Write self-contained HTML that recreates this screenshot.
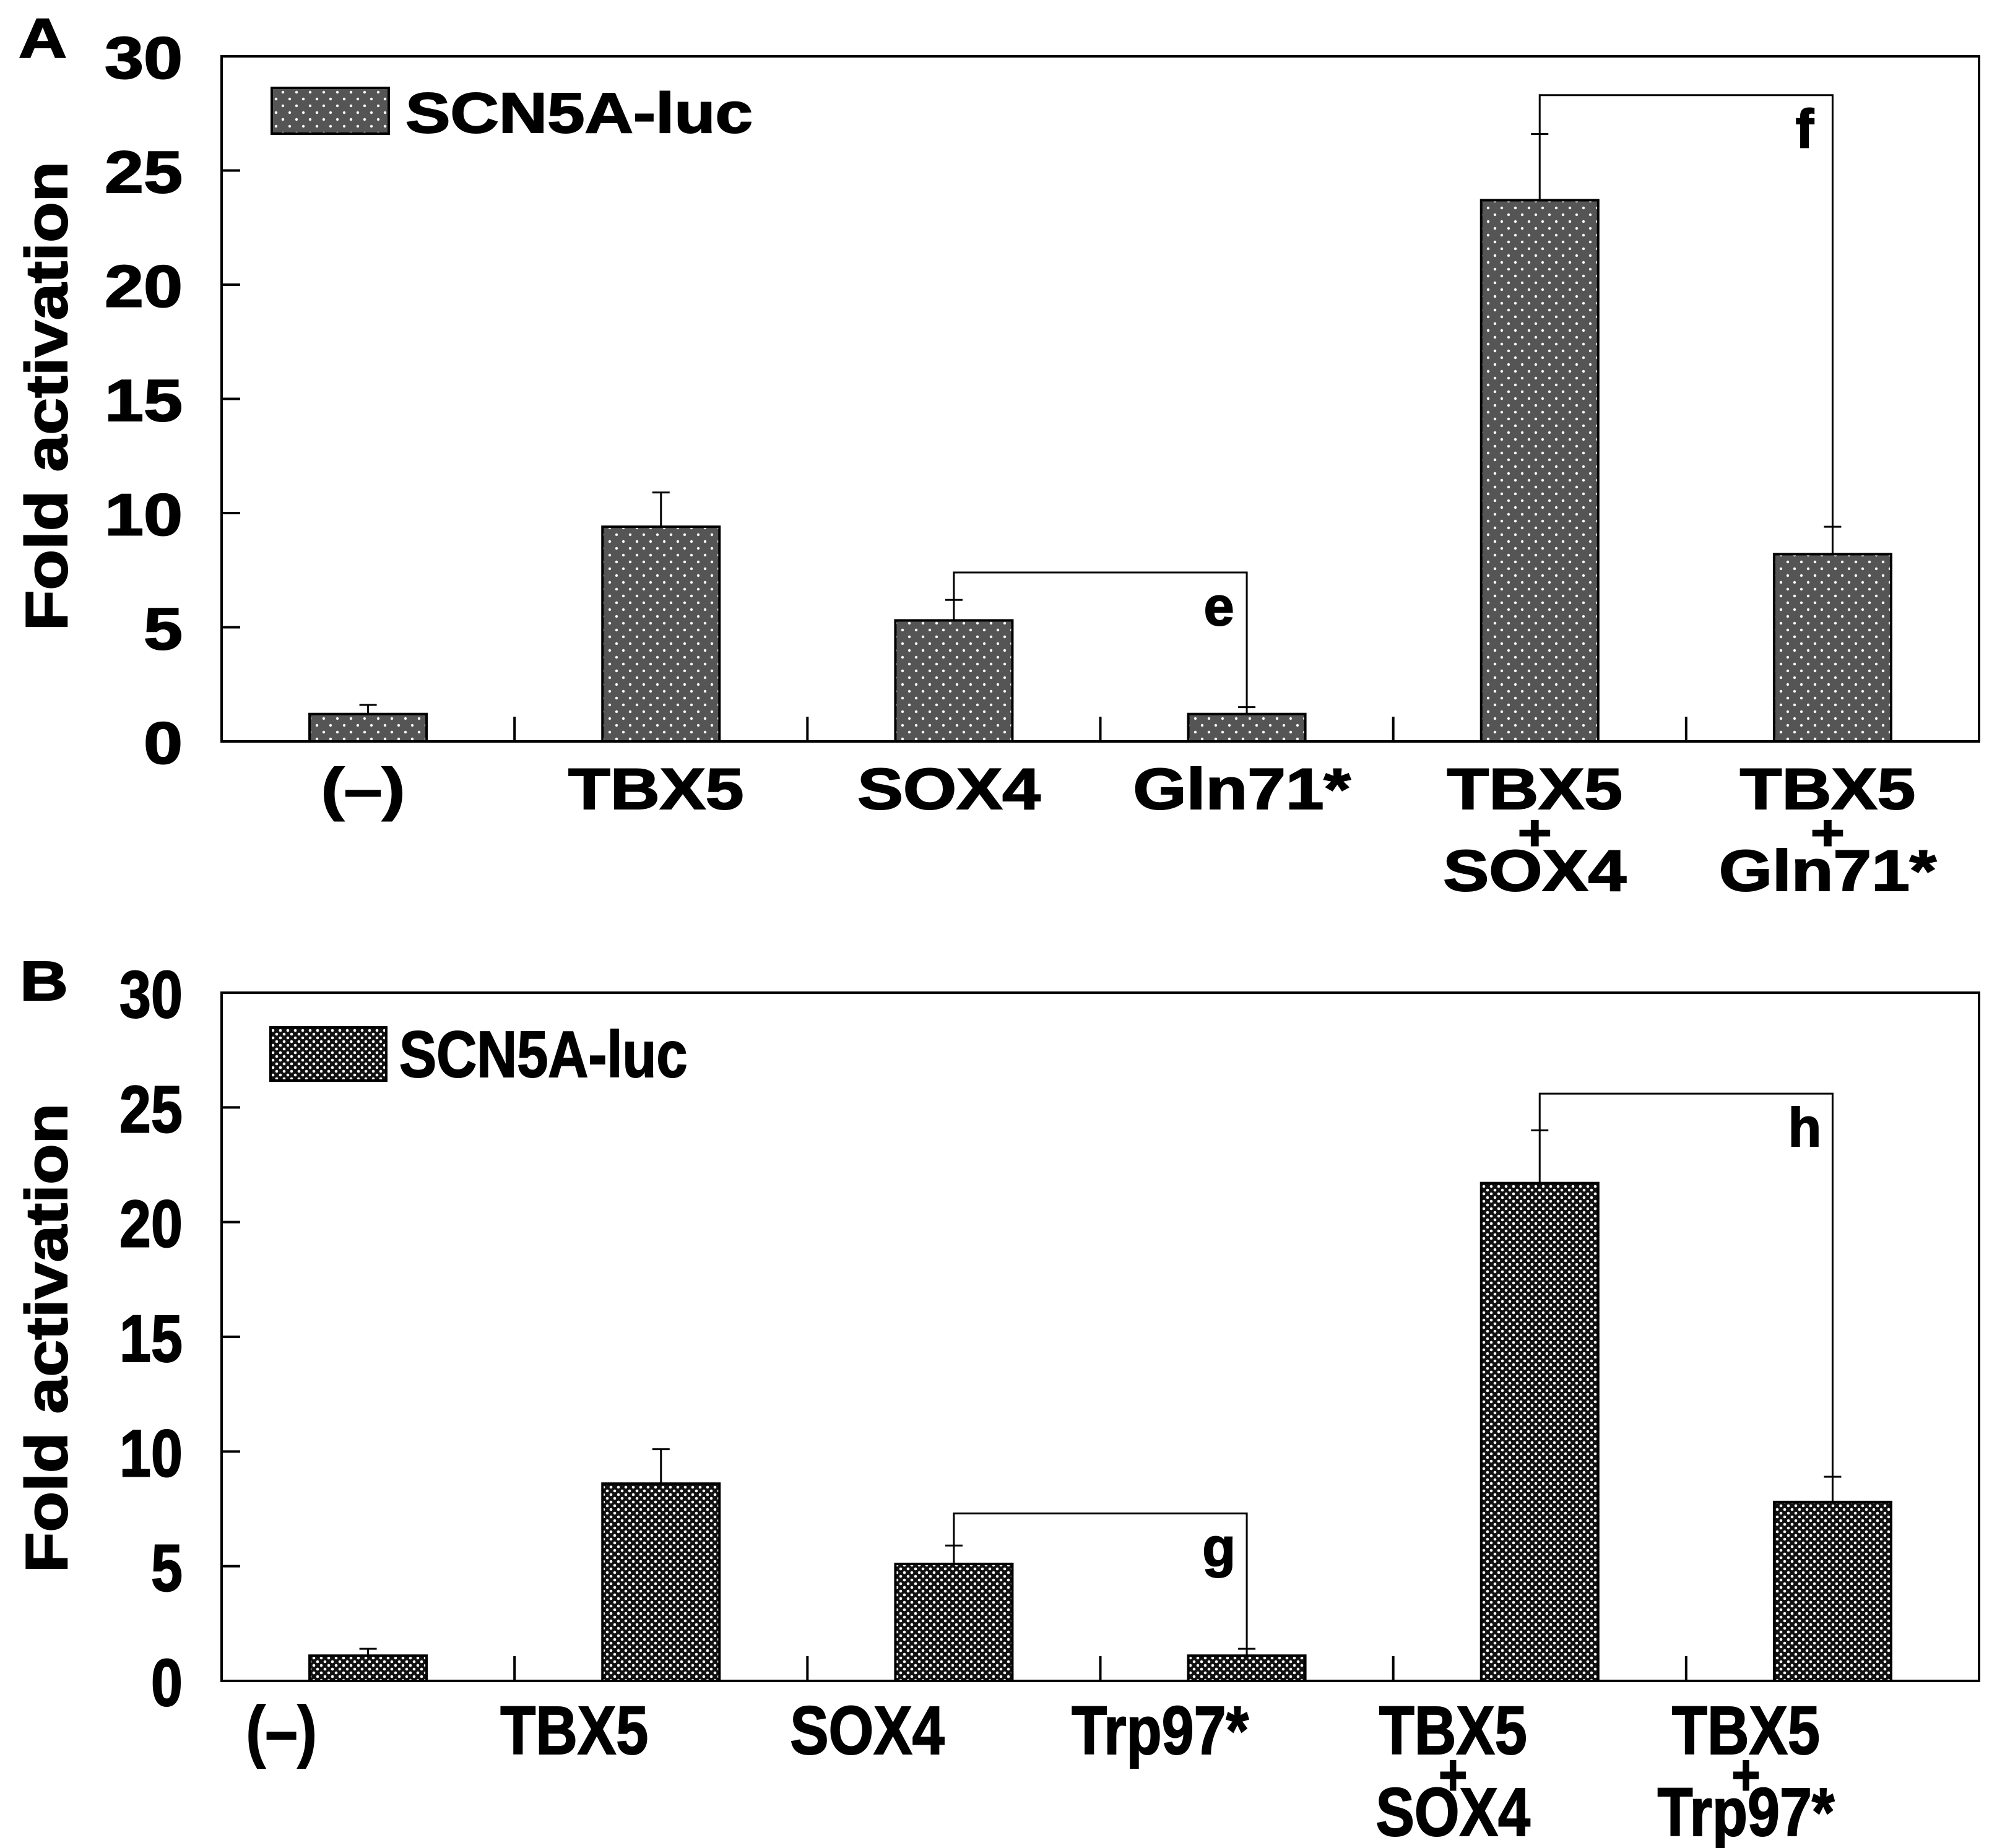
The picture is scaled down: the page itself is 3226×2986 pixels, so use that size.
<!DOCTYPE html>
<html><head><meta charset="utf-8"><style>
html,body{margin:0;padding:0;background:#fff;}
svg{display:block;}
text{font-family:"Liberation Sans",sans-serif;font-weight:bold;fill:#000;stroke:#000;stroke-width:2;}
</style></head><body>
<svg id="fig" width="3226" height="2986" viewBox="0 0 3226 2986" xmlns="http://www.w3.org/2000/svg">
<defs>
<pattern id="dots" width="22" height="22" patternUnits="userSpaceOnUse">
<rect width="22" height="22" fill="#555"/><circle cx="6" cy="6" r="2.2" fill="#fff"/><circle cx="17" cy="17" r="2.2" fill="#fff"/>
</pattern>
<pattern id="checks" width="12" height="12" patternUnits="userSpaceOnUse">
<rect width="12" height="12" fill="#111"/><circle cx="3" cy="3" r="2.3" fill="#fff"/><circle cx="9" cy="9" r="2.3" fill="#fff"/>
</pattern>
</defs>
<g id="panelA"></g>
<g id="panelB"></g>
</svg>
<script>
const categoriesA = [["(–)"],["TBX5"],["SOX4"],["Gln71*"],["TBX5","+","SOX4"],["TBX5","+","Gln71*"]];
const valuesA = [1.2, 9.4, 5.3, 1.2, 23.7, 8.2];
const errorsA = [1.6, 10.9, 6.2, 1.5, 26.6, 9.4];
const bracketsA = [[2,3,7.4,"e"],[4,5,28.3,"f"]];
const categoriesB = [["(–)"],["TBX5"],["SOX4"],["Trp97*"],["TBX5","+","SOX4"],["TBX5","+","Trp97*"]];
const valuesB = [1.1, 8.6, 5.1, 1.1, 21.7, 7.8];
const errorsB = [1.4, 10.1, 5.9, 1.4, 24.0, 8.9];
const bracketsB = [[2,3,7.3,"g"],[4,5,25.6,"h"]];
const yTicks = [0,5,10,15,20,25,30];

const NS="http://www.w3.org/2000/svg";
function mk(parent,tag,attrs,txt){const e=document.createElementNS(NS,tag);for(const k in attrs)e.setAttribute(k,attrs[k]);if(txt!==undefined)e.textContent=txt;parent.appendChild(e);return e;}

function panel(g,cfg){
  const L=358,R=3197,T=cfg.top,B=cfg.bottom;
  const y=v=>B-(v/30)*(B-T);
  const n=cfg.cats.length, gw=(R-L)/n;
  const x=i=>L+gw*(i+0.5);
  const bw=189;
  const frame=mk(g,"rect",{x:L,y:T,width:R-L,height:B-T,fill:"none",stroke:"#000","stroke-width":4});
  
  
  yTicks.forEach(t=>{
    if(t>0&&t<30){const tk=mk(g,"line",{x1:L,x2:L+30,y1:y(t),y2:y(t),stroke:"#000","stroke-width":4});
    
    }
    const lb=mk(g,"text",{x:295,y:y(t)+cfg.tickFs*0.37,"text-anchor":"end","font-size":cfg.tickFs,transform:`translate(295 0) scale(${cfg.sx} 1) translate(-295 0)`},String(t));
    
    
  });
  for(let i=1;i<n;i++){const tk=mk(g,"line",{x1:L+gw*i,x2:L+gw*i,y1:B,y2:B-40,stroke:"#000","stroke-width":4});
    
    }
  cfg.vals.forEach((v,i)=>{
    const eb=mk(g,"path",{d:`M${x(i)} ${y(v)}V${y(cfg.errs[i])}M${x(i)-14} ${y(cfg.errs[i])}H${x(i)+14}`,stroke:"#000","stroke-width":3,fill:"none"});
    
    
    const b=mk(g,"rect",{x:x(i)-bw/2,y:y(v),width:bw,height:B-y(v),fill:cfg.fill,stroke:"#000","stroke-width":4});
    
    
    const lines=cfg.cats[i];
    lines.forEach((s,j)=>{
      const cx=x(i)+cfg.lblShift, ly=cfg.lblY+j*cfg.lblGap;
      const t=mk(g,"text",{x:cx,y:ly,"text-anchor":"middle","font-size":s==="+"?cfg.lblFs*0.85:cfg.lblFs,transform:`translate(${cx} 0) scale(${cfg.sx} 1) translate(${-cx} 0)`},s);
      
      
    });
  });
  cfg.brackets.forEach(([a,b2,h,lab])=>{
    const br=mk(g,"path",{d:`M${x(a)} ${y(cfg.errs[a])}V${y(h)}H${x(b2)}V${y(cfg.errs[b2])}`,stroke:"#000","stroke-width":3,fill:"none"});
    
    
    const bt=mk(g,"text",{x:x(b2)-45,y:y(h)+85,"text-anchor":"middle","font-size":88},lab);
    
    
  });
  const lr=mk(g,"rect",{x:cfg.leg[0],y:cfg.leg[1],width:cfg.leg[2],height:cfg.leg[3],fill:cfg.fill,stroke:"#000","stroke-width":4});
  
  
  const lt=mk(g,"text",{x:cfg.legT[0],y:cfg.legT[1],"font-size":cfg.legFs,transform:`translate(${cfg.legT[0]} 0) scale(${cfg.sx} 1) translate(${-cfg.legT[0]} 0)`},"SCN5A-luc");
  
  
  const cy=cfg.titleY;
  const yt=mk(g,"text",{x:0,y:0,"text-anchor":"middle","font-size":96,transform:`translate(108 ${cy}) rotate(-90) scale(1.12 1)`},"Fold activation");
  
  
  const pl=mk(g,"text",{x:cfg.letter[0],y:cfg.letter[1],"font-size":90,transform:`translate(${cfg.letter[0]} 0) scale(1.2 1) translate(${-cfg.letter[0]} 0)`},cfg.letterT);
  
  
}
panel(document.getElementById('panelA'),{top:91,bottom:1198,cats:categoriesA,vals:valuesA,errs:errorsA,brackets:bracketsA,fill:"url(#dots)",tickFs:96,lblFs:94,legFs:92,sx:1.18,lblShift:-8,lblY:1307,lblGap:66,leg:[439,142,189,74],legT:[655,214],letter:[30,93],letterT:"A",titleY:640});
panel(document.getElementById('panelB'),{top:1604,bottom:2716,cats:categoriesB,vals:valuesB,errs:errorsB,brackets:bracketsB,fill:"url(#checks)",tickFs:108,lblFs:110,legFs:106,sx:0.85,lblShift:-140,lblY:2834,lblGap:66,leg:[437,1660,187,86],legT:[645,1740],letter:[32,1616],letterT:"B",titleY:2162});
</script>
</body></html>
